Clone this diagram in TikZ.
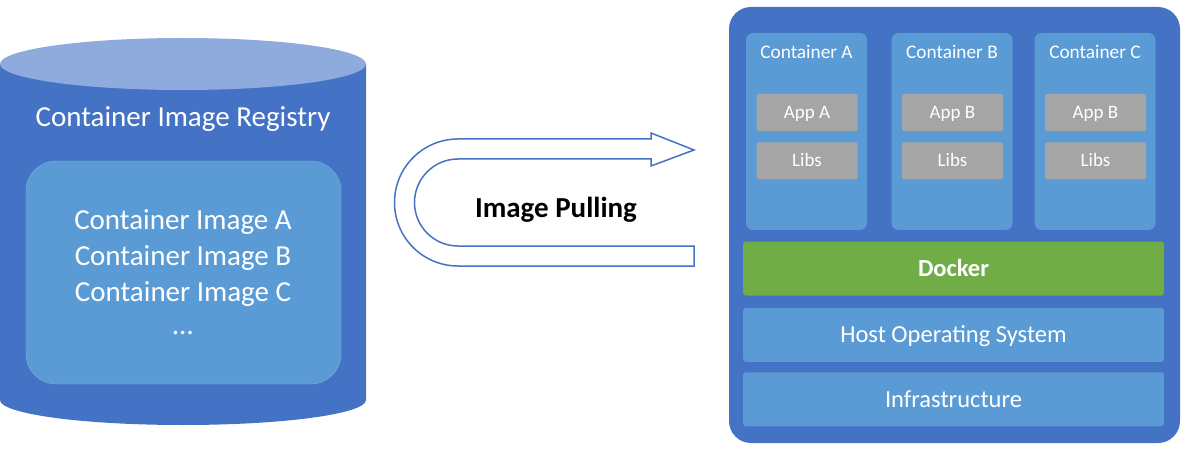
\documentclass[tikz,border=0pt]{standalone}
\usepackage{fontspec}
\setmainfont{Carlito}
\usepackage{tikz}
\usetikzlibrary{positioning}

\definecolor{darkblue}{HTML}{4472C4}
\definecolor{lightblue}{HTML}{5B9BD5}
\definecolor{topblue}{HTML}{8FAADC}
\definecolor{appgray}{HTML}{A5A5A5}
\definecolor{dockergreen}{HTML}{70AD47}

\begin{document}
\begin{tikzpicture}[x=1pt, y=1pt,
  layer/.style={draw=none, rectangle, rounded corners=3pt, fill=lightblue, text=white, minimum width=421pt, minimum height=54pt, inner sep=0pt, text height=15.5pt, text depth=0pt, font=\fontsize{24.5}{28}\selectfont},
  container/.style={draw=none, rectangle, rounded corners=7pt, fill=lightblue, minimum width=121pt, minimum height=197pt, inner sep=0pt},
  part/.style={draw=none, rectangle, rounded corners=1.5pt, fill=appgray, text=white, minimum width=101pt, minimum height=37pt, inner sep=0pt, text height=12.2pt, text depth=0pt, font=\fontsize{19}{23}\selectfont},
  title/.style={text=white, inner sep=0pt, font=\fontsize{19.3}{23}\selectfont},
  regtext/.style={text=white, inner sep=0pt, anchor=base, font=\fontsize{29}{34}\selectfont}]
\useasboundingbox (0,0) rectangle (1188,453);

% registry cylinder
\fill[darkblue] (0,389) -- (0,53) arc[start angle=180, end angle=360, x radius=183, y radius=25] -- (366,389) -- cycle;
\fill[topblue] (183,389) ellipse[x radius=183, y radius=26];
\node[regtext] (registry) at (183,326) {Container Image Registry};
\node[rectangle, rounded corners=30pt, fill=lightblue, draw=lightblue!80!white, minimum width=315pt, minimum height=223pt] (images) at (183.5,180.5) {};
\node[regtext] (imgA) at (183,223) {Container Image A};
\node[regtext] (imgB) at (183,188) {Container Image B};
\node[regtext] (imgC) at (183,152) {Container Image C};
\node[regtext] (imgdots) at (183,119) {\dots};

% u-turn arrow
\draw[darkblue, line width=1.5pt, line join=miter] (694,187) -- (458,187)
  arc[start angle=270, end angle=90, radius=63.5] -- (651,314) -- (651,320)
  -- (694,303) -- (651,287) -- (651,294) -- (458,294)
  arc[start angle=90, end angle=270, radius=43.5] -- (694,207) -- cycle;
\node[inner sep=0pt, anchor=base, font=\bfseries\fontsize{29}{34}\selectfont] (pulling) at (556,236) {Image Pulling};

% docker host
\node[rectangle, rounded corners=22pt, fill=darkblue, minimum width=451pt, minimum height=436pt] (host) at (954.5,228) {};

\node[container] (conA) at (806.5,321.5) {};
\node[container] (conB) at (952,321.5) {};
\node[container] (conC) at (1095,321.5) {};
\node[title, anchor=base] (titleA) at ([yshift=-26pt]conA.north) {Container A};
\node[title, anchor=base] (titleB) at ([yshift=-26pt]conB.north) {Container B};
\node[title, anchor=base] (titleC) at ([yshift=-26pt]conC.north) {Container C};

\node[part] (appA) at (807,340.5) {App A};
\node[part, below=11pt of appA] (libsA) {Libs};
\node[part] (appB) at (952.5,340.5) {App B};
\node[part, below=11pt of appB] (libsB) {Libs};
\node[part] (appC) at (1095.5,340.5) {App B};
\node[part, below=11pt of appC] (libsC) {Libs};

\node[layer, fill=dockergreen, font=\bfseries\fontsize{24.5}{28}\selectfont] (docker) at (953.5,184.5) {Docker};
\node[layer, below=12pt of docker] (os) {Host Operating System};
\node[layer, below=10pt of os] (infra) {Infrastructure};
\end{tikzpicture}
\end{document}
